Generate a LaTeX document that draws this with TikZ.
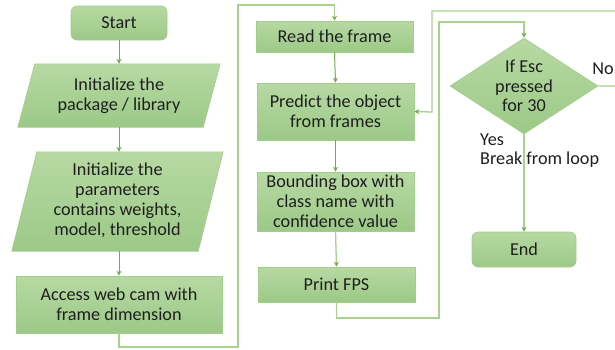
\documentclass[tikz,border=0pt]{standalone}
\usepackage{fontspec}
\setmainfont{Carlito}
\usetikzlibrary{shapes.geometric,arrows.meta}
\definecolor{boxtop}{HTML}{B7D9A3}
\definecolor{boxbot}{HTML}{9CC987}
\definecolor{boxedge}{HTML}{A3CD8D}
\definecolor{linelight}{HTML}{A9D18E}
\definecolor{linedark}{HTML}{70AD47}
\definecolor{txt}{HTML}{1F1F1F}
\tikzset{
  base/.style={text=txt, font=\fontsize{18.2}{19.8}\selectfont, align=center, inner sep=0pt},
  box/.style={base, top color=boxtop, bottom color=boxbot, draw=boxedge, line width=0.6pt},
  rbox/.style={box, rounded corners=6pt},
  txtonly/.style={base},
  para/.style={top color=boxtop, bottom color=boxbot, draw=boxedge, line width=0.6pt},
  dia/.style={base, diamond, top color=boxtop, bottom color=boxbot, draw=boxedge, line width=0.6pt},
  arr/.style={draw=linedark, line width=1pt, -{Stealth[length=5pt,width=5pt,color=linedark]}},
  loop/.style={draw=linelight, line width=1.3pt, -{Stealth[length=5pt,width=5pt,color=linedark]}},
  plain/.style={draw=linelight, line width=1.3pt},
  lbl/.style={text=txt, font=\fontsize{18.2}{19.8}\selectfont, inner sep=0pt}
}
\begin{document}
\begin{tikzpicture}[x=1pt,y=-1pt]
\useasboundingbox (0,0) rectangle (615,349);
\clip (0,0) rectangle (615,349);
\fill[white] (0,0) rectangle (615,349);

% left column
\node[rbox, minimum width=96pt, minimum height=34pt] (start) at (119,23) {Start};

\node[txtonly, minimum width=185pt, minimum height=63pt] (pkg) at (119,95.5) {};
\path[para] ([xshift=8.5pt]pkg.north west) -- ([xshift=8.5pt]pkg.north east)
  -- ([xshift=-8.5pt]pkg.south east) -- ([xshift=-8.5pt]pkg.south west) -- cycle;
\node[txtonly] at (pkg.center) {Initialize the\\package / library};

\node[txtonly, minimum width=186pt, minimum height=99pt] (par) at (117.5,201.5) {};
\path[para] ([xshift=12.5pt]par.north west) -- ([xshift=12.5pt]par.north east)
  -- ([xshift=-12.5pt]par.south east) -- ([xshift=-12.5pt]par.south west) -- cycle;
\node[txtonly] at ([yshift=1pt]par.center) {Initialize the\\parameters\\contains weights,\\model, threshold};

\node[box, minimum width=206pt, minimum height=57pt] (web) at (119,304.5) {Access web cam with\\frame dimension};

% middle column
\node[box, minimum width=157pt, minimum height=31pt] (read) at (334.5,36.5) {Read the frame};
\node[box, minimum width=157pt, minimum height=57pt] (pred) at (335.5,111.5) {Predict the object\\from frames};
\node[box, minimum width=157pt, minimum height=59pt] (bbox) at (335.5,201.5) {Bounding box with\\class name with\\confidence value};
\node[box, minimum width=157pt, minimum height=35pt] (fps) at (336.5,284.5) {Print FPS};

% right column
\node[dia, minimum width=148pt, minimum height=96pt, aspect=1.54] (esc) at (524,86) {If Esc\\pressed\\for 30};
\node[rbox, minimum width=104pt, minimum height=35pt] (end) at (524,249.5) {End};

% labels
\node[lbl, anchor=center] (no) at (603,69) {No};
\node[lbl, anchor=west] (yes) at (480,140) {Yes};
\node[lbl, anchor=west] (brk) at (480,160) {Break from loop};

% coordinates for loops
\coordinate (c1) at (119,347);
\coordinate (c2) at (238,347);
\coordinate (c3) at (238,5);
\coordinate (d2) at (439,318);
\coordinate (d3) at (439,22);
\coordinate (e1) at (625,86);
\coordinate (e2) at (625,11);
\coordinate (e3) at (432,11);
\coordinate (e4) at (432,112);

% connectors
\draw[arr] (start.south) -- (pkg.north);
\draw[arr] (pkg.south) -- ([xshift=1.5pt]par.north);
\draw[arr] ([xshift=1.5pt]par.south) -- (web.north);
\draw[loop] (web.south) -- (c1) -- (c2) -- (c3) -| (read.north);
\draw[arr] (read.south) -- (pred.north);
\draw[arr] (pred.south) -- (bbox.north);
\draw[loop] (bbox.south) -- (fps.north);
\draw[loop] (fps.south) |- (d2) -- (d3) -| (esc.north);
\draw[loop] (esc.east) -- (e1) -- (e2) -- (e3) -- (e4) -- (pred.east);
\draw[loop] (esc.south) -- (end.north);
\end{tikzpicture}
\end{document}
